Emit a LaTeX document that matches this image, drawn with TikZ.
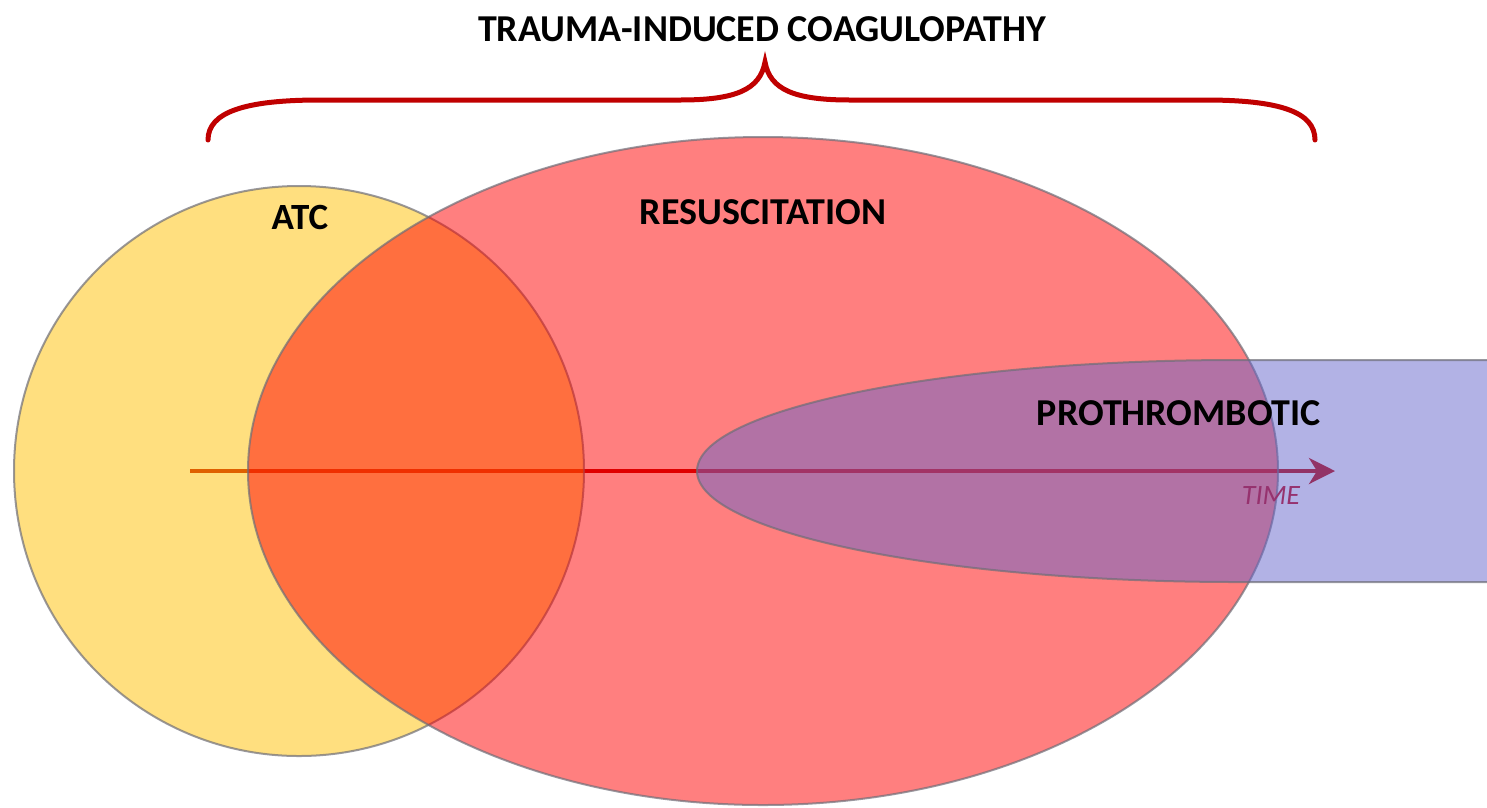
\documentclass[tikz,border=0pt]{standalone}
\usepackage{fontspec}
\setmainfont{Carlito}
\usetikzlibrary{arrows.meta}
\definecolor{braceRed}{RGB}{192,0,0}
\definecolor{atcYellow}{RGB}{255,192,0}
\definecolor{resRed}{RGB}{255,0,0}
\definecolor{proBlue}{RGB}{102,102,204}
\definecolor{edgeGray}{RGB}{110,110,120}
\definecolor{timeLine}{RGB}{192,0,0}
\definecolor{timeText}{RGB}{150,50,110}
\begin{document}
\begin{tikzpicture}[x=1pt,y=-1pt,
  blob/.style={draw=edgeGray,line width=2pt,fill opacity=0.5,draw opacity=0.7},
  lbl/.style={font=\fontsize{38}{44}\selectfont\bfseries,text=black,inner sep=0pt},
  ttl/.style={font=\fontsize{38}{44}\selectfont\bfseries,text=black,inner sep=0pt}]
\fill[white] (0,0) rectangle (1487,807);
\useasboundingbox (0,0) rectangle (1487,807);
\clip (0,0) rectangle (1487,807);
% time axis
\coordinate (tstart) at (190,471);
\coordinate (tend) at (1335,471);
\draw[timeLine,line width=4pt,-{Stealth[length=26pt,width=26pt,inset=8pt]}] (tstart) -- (tend);
% regions
\fill[atcYellow,blob] (299,471) circle (285);
\fill[resRed,blob] (763,471) ellipse (515 and 334);
\fill[proBlue,blob] (1237,360) .. controls (939,360) and (697,410) .. (697,471)
  .. controls (697,532) and (939,582) .. (1237,582) -- (1600,582) -- (1600,360) -- cycle;
% brace
\draw[braceRed,line width=5pt,line cap=round]
  (208,140) .. controls (208,112) and (245,100) .. (320,100)
  -- (680,100) .. controls (735,100) and (760,90) .. (765,62)
  .. controls (770,90) and (795,100) .. (850,100)
  -- (1205,100) .. controls (1280,100) and (1315,112) .. (1315,140);
% labels
\node[ttl] (title) at (762,29) {TRAUMA-INDUCED COAGULOPATHY};
\node[lbl,font=\fontsize{37}{44}\selectfont\bfseries] (atc) at (300,217) {ATC};
\node[lbl] (res) at (763,212) {RESUSCITATION};
\node[lbl] (pro) at (1179,413) {PROTHROMBOTIC};
\node[font=\fontsize{28}{32}\selectfont\itshape,text=timeText,inner sep=0pt] (time) at (1271,496) {TIME};
\end{tikzpicture}
\end{document}
